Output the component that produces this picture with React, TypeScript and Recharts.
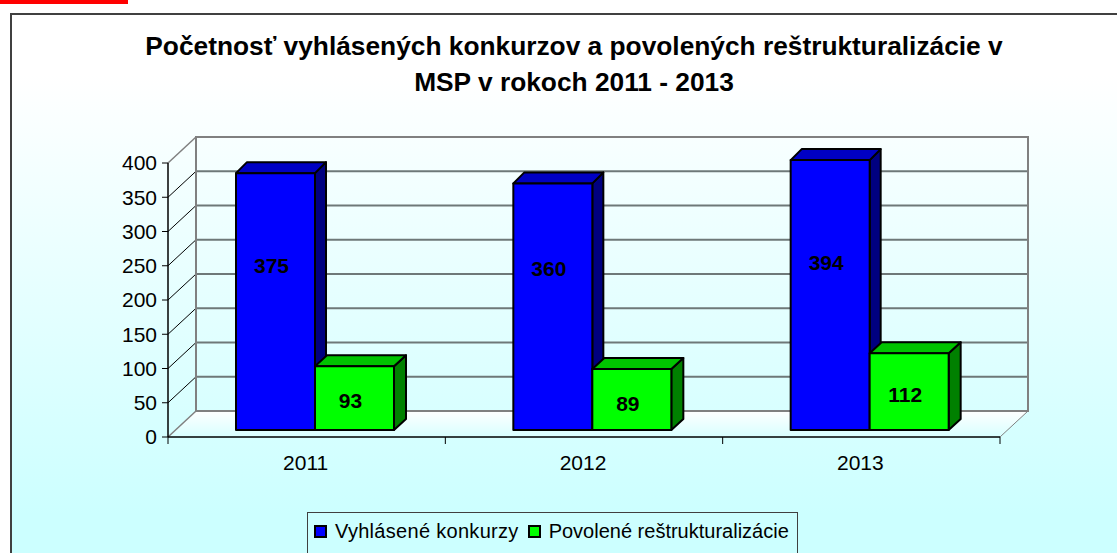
import {
  BarChart,
  Bar,
  XAxis,
  YAxis,
  CartesianGrid,
  Legend,
  LabelList,
  ReferenceArea,
} from 'recharts';

const years = ['2011', '2012', '2013'];
const konkurzy = [375, 360, 394];
const restrukturalizacie = [93, 89, 112];
const yTicks = [0, 50, 100, 150, 200, 250, 300, 350, 400];
const titleLines = [
  'Početnosť vyhlásených konkurzov a povolených reštrukturalizácie v',
  'MSP v rokoch 2011 - 2013',
];
const seriesNames = ['Vyhlásené konkurzy', 'Povolené reštrukturalizácie'];

const chartData = years.map((year, i) => ({
  year,
  konkurzy: konkurzy[i],
  restrukturalizacie: restrukturalizacie[i],
}));

const FONT = '"Liberation Sans", Arial, sans-serif';
const WIDTH = 1117;
const HEIGHT = 553;

// fake 3D: back wall offset from the axis plane, bars sit part way in
const WALL_DX = 28;
const WALL_DY = -26;
const BAR_DX = 8;
const BAR_DY = -7;
const WALL_GRAY = '#808080';

// draws one extruded box from the rect the Bar hands over
const box3d = (front: string, top: string, side: string, depthX: number, depthY: number) =>
  function Box(props: any) {
    const x = props.x + BAR_DX;
    const y = props.y + BAR_DY;
    const w = props.width;
    const h = props.height;
    const r = x + w;
    const b = y + h;
    return (
      <g stroke="#000" strokeWidth={2} strokeLinejoin="round">
        <polygon fill={side} points={`${r},${y} ${r + depthX},${y - depthY} ${r + depthX},${b - depthY} ${r},${b}`} />
        <polygon fill={top} points={`${x},${y} ${x + depthX},${y - depthY} ${r + depthX},${y - depthY} ${r},${y}`} />
        <rect x={x} y={y} width={w} height={h} fill={front} />
      </g>
    );
  };

// label height inside the bar, the original does not centre them
const barLabel = (ratio: number, nudges: number[]) =>
  function BarLabel(props: any) {
    const { x, y, width, height, value, index } = props;
    return (
      <text
        x={x + BAR_DX + width / 2 - 4}
        y={y + BAR_DY + height * ratio + nudges[index]}
        textAnchor="middle"
        dominantBaseline="central"
        fontFamily={FONT}
        fontWeight="bold"
        fontSize={21}
        fill="#000"
      >
        {value}
      </text>
    );
  };

// walls and floor hang off the plot rectangle from ReferenceArea
const Walls = (props: any) => {
  const { x, y, width, height } = props;
  const bx = x + WALL_DX;
  const by = y + WALL_DY;
  const bottom = y + height;
  return (
    <g>
      <polygon
        fill="url(#floorFill)"
        points={`${x},${bottom} ${bx},${bottom + WALL_DY} ${bx + width},${bottom + WALL_DY} ${x + width},${bottom}`}
      />
      <rect x={bx} y={by} width={width} height={height} fill="none" stroke={WALL_GRAY} strokeWidth={2} />
      <line x1={x} y1={bottom} x2={bx} y2={bottom + WALL_DY} stroke={WALL_GRAY} strokeWidth={1.5} />
      <line x1={x + width} y1={bottom} x2={bx + width} y2={bottom + WALL_DY} stroke={WALL_GRAY} strokeWidth={1} />
      <line x1={x} y1={y} x2={bx} y2={by} stroke={WALL_GRAY} strokeWidth={1.5} />
    </g>
  );
};

const GridLine = (props: any) => {
  const { x1, y1, x2, y2, index } = props;
  const edge = index === 0 || index === yTicks.length - 1 || y1 === undefined;
  return (
    <g key={props.key}>
      <line x1={x1 + WALL_DX} y1={y1 + WALL_DY} x2={x2 + WALL_DX} y2={y2 + WALL_DY} stroke="#6e7878" strokeWidth={2} />
      {!edge && <line x1={x1} y1={y1} x2={x1 + WALL_DX} y2={y1 + WALL_DY} stroke="#000" strokeWidth={1} />}
    </g>
  );
};

const YearTick = (props: any) => {
  const { x, y, payload, index } = props;
  const band = (WIDTH - 108 - 60 - 117) / years.length;
  const left = x - band / 2;
  return (
    <g>
      <line x1={left} y1={y - 8} x2={left} y2={y - 1} stroke="#000" strokeWidth={1} />
      {index === years.length - 1 && (
        <line x1={left + band} y1={y - 8} x2={left + band} y2={y - 1} stroke="#000" strokeWidth={1} />
      )}
      <text x={x - 1} y={y + 25} textAnchor="middle" fontFamily={FONT} fontSize={21} fill="#000">
        {payload.value}
      </text>
    </g>
  );
};

const LegendBox = () => (
  <div
    style={{
      width: 491,
      height: 60,
      boxSizing: 'border-box',
      border: '1px solid #404040',
      display: 'flex',
      alignItems: 'flex-start',
      paddingTop: 6,
      paddingLeft: 6,
      fontFamily: FONT,
      fontSize: 20,
      lineHeight: '24px',
      color: '#000',
      whiteSpace: 'nowrap',
    }}
  >
    {seriesNames.map((name, i) => (
      <span
        key={name}
        style={{
          display: 'flex',
          alignItems: 'center',
          marginRight: 9,
          letterSpacing: i === 0 ? 0.3 : 0,
        }}
      >
        <span
          style={{
            width: 9,
            height: 9,
            border: '2px solid #000',
            boxSizing: 'content-box',
            marginRight: 8,
            background: i === 0 ? '#0000ff' : '#00ff00',
          }}
        />
        {name}
      </span>
    ))}
  </div>
);

export default function App() {
  return (
    <div
      style={{
        position: 'absolute',
        left: 0,
        top: 0,
        width: WIDTH,
        height: HEIGHT,
        overflow: 'hidden',
        background: '#fff',
      }}
    >
      <div style={{ position: 'absolute', left: 0, top: 0, width: 128, height: 4, background: '#ff0000' }} />
      <div
        style={{
          position: 'absolute',
          left: 10,
          top: 13,
          width: 1200,
          height: 700,
          boxSizing: 'border-box',
          border: '2px solid #404040',
          background: 'linear-gradient(to bottom, #ffffff 0px, #ffffff 60px, #ccffff 500px)',
        }}
      />
      <div style={{ position: 'absolute', left: 0, top: 0 }}>
        <BarChart
          width={WIDTH}
          height={HEIGHT}
          data={chartData}
          margin={{ top: 163, right: 117, bottom: 86, left: 108 }}
          barSize={79}
          barGap={0}
        >
          <defs>
            <linearGradient id="floorFill" x1="0" y1="0" x2="0" y2="1">
              <stop offset="0%" stopColor="#ffffff" />
              <stop offset="100%" stopColor="#d8ffff" />
            </linearGradient>
          </defs>
          {titleLines.map((line, i) => (
            <text
              key={line}
              x={574}
              y={55 + i * 36}
              textAnchor="middle"
              fontFamily={FONT}
              fontWeight="bold"
              fontSize={26.3}
              fill="#000"
            >
              {line}
            </text>
          ))}
          <ReferenceArea y1={0} y2={400} shape={Walls} ifOverflow="visible" />
          <CartesianGrid horizontal={GridLine as any} vertical={false} />
          <XAxis
            dataKey="year"
            height={30}
            axisLine={{ stroke: '#000', strokeWidth: 1.5 }}
            tickLine={false}
            tick={YearTick as any}
            interval={0}
          />
          <YAxis
            width={60}
            domain={[0, 400]}
            ticks={yTicks}
            interval={0}
            axisLine={{ stroke: '#000', strokeWidth: 1.5 }}
            tickLine={{ stroke: '#000' }}
            tickSize={6}
            tickMargin={5}
            tick={{ fontFamily: FONT, fontSize: 21, fill: '#000' }}
          />
          <Legend
            layout="horizontal"
            verticalAlign="middle"
            align="center"
            content={<LegendBox />}
            wrapperStyle={{ position: 'absolute', left: 307, top: 512, width: 491, bottom: 'auto' }}
          />
          <Bar
            dataKey="konkurzy"
            name={seriesNames[0]}
            isAnimationActive={false}
            shape={box3d('#0000ff', '#0000c4', '#000080', 11, 11)}
          >
            <LabelList dataKey="konkurzy" content={barLabel(0.36, [0, -4, 5])} />
          </Bar>
          <Bar
            dataKey="restrukturalizacie"
            name={seriesNames[1]}
            isAnimationActive={false}
            shape={box3d('#00ff00', '#00c400', '#008000', 12, 11)}
          >
            <LabelList dataKey="restrukturalizacie" content={barLabel(0.54, [0, 2, 0])} />
          </Bar>
        </BarChart>
      </div>
    </div>
  );
}
